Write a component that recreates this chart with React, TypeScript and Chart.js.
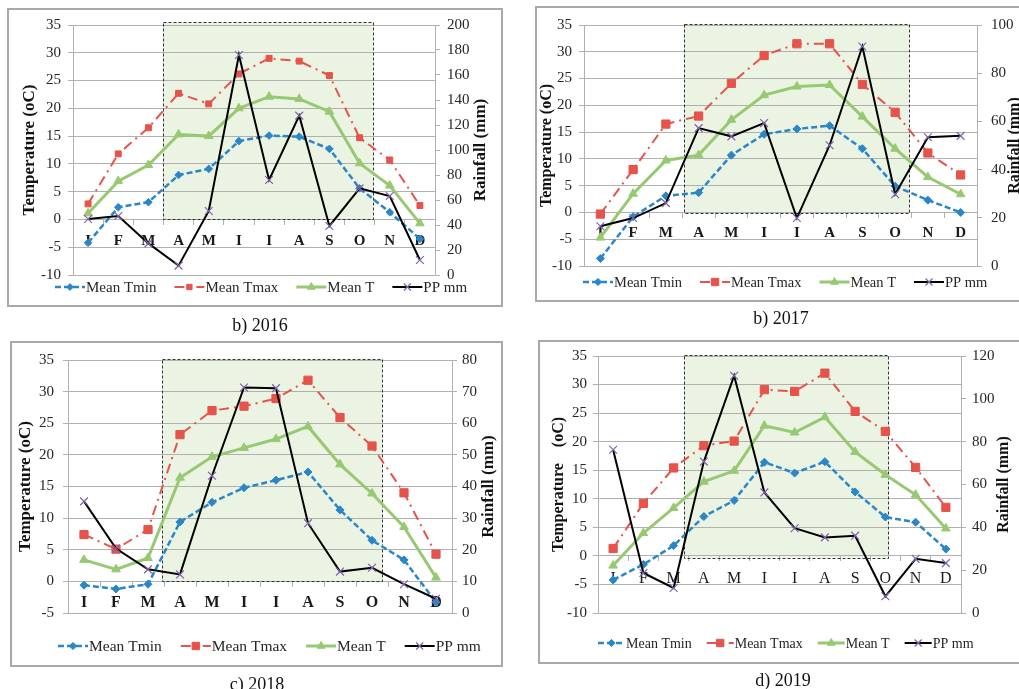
import React, { useEffect, useRef } from 'react';
import { Chart, registerables } from 'chart.js';

Chart.register(...registerables);

// ---------- DATA ----------
const months = ['I', 'F', 'M', 'A', 'M', 'I', 'I', 'A', 'S', 'O', 'N', 'D'];

const tmin2016 = [-4.2, 2.2, 3.1, 8.0, 9.1, 14.1, 15.1, 14.9, 12.7, 5.6, 1.3, -3.5];
const tmax2016 = [2.8, 11.8, 16.5, 22.7, 20.8, 26.2, 29.0, 28.5, 25.9, 14.7, 10.7, 2.5];
const tmean2016 = [1.1, 6.9, 9.8, 15.3, 15.0, 20.0, 22.1, 21.7, 19.4, 10.1, 6.1, -0.7];
const pp2016 = [44.8, 47.2, 25.3, 7.5, 51.2, 176, 76, 127.5, 39.2, 69.3, 63.2, 12];

const tmin2017 = [-8.6, -0.8, 3.1, 3.7, 10.7, 14.6, 15.6, 16.2, 11.9, 4.9, 2.3, 0];
const tmax2017 = [-0.3, 8.0, 16.5, 18.0, 24.1, 29.3, 31.5, 31.5, 23.9, 18.7, 11.1, 7.0];
const tmean2017 = [-4.7, 3.5, 9.7, 10.7, 17.3, 21.9, 23.5, 23.8, 17.9, 11.9, 6.6, 3.4];
const pp2017 = [16.5, 19.9, 26.1, 57.2, 53.8, 59.3, 19.9, 50.1, 91.1, 29.8, 53.4, 54.0];

const tmin2018 = [-0.6, -1.2, -0.45, 9.4, 12.5, 14.8, 16.0, 17.3, 11.3, 6.5, 3.4, -3.3];
const tmax2018 = [7.4, 5.1, 8.2, 23.2, 27.0, 27.7, 28.9, 31.8, 25.9, 21.4, 14.0, 4.3];
const tmean2018 = [3.4, 1.9, 3.7, 16.4, 19.7, 21.1, 22.5, 24.5, 18.5, 13.9, 8.6, 0.6];
const pp2018 = [35.3, 20.4, 13.8, 12.2, 43.4, 71.3, 71.1, 28.4, 13.1, 14.3, 9.1, 4.5];

const tmin2019 = [-4.2, -1.5, 1.8, 6.9, 9.7, 16.4, 14.5, 16.5, 11.2, 6.8, 5.9, 1.2];
const tmax2019 = [1.3, 9.2, 15.4, 19.3, 20.1, 29.1, 28.8, 32.0, 25.3, 21.8, 15.5, 8.5];
const tmean2019 = [-1.7, 4.0, 8.4, 13.0, 14.9, 22.8, 21.6, 24.3, 18.2, 14.2, 10.7, 4.8];
const pp2019 = [76.2, 18.7, 11.7, 70.7, 110.8, 56.3, 39.6, 35.3, 36.1, 7.8, 25.3, 23.3];

const seriesLabels = ['Mean Tmin', 'Mean Tmax', 'Mean T', 'PP mm'];

// ---------- STYLE ----------
const FONT = '"Liberation Serif", "Times New Roman", serif';
const BLUE = '#2a86c8';
const RED = '#e5534b';
const GREEN = '#97c972';
const BLACK = '#000000';
const PURPLE = '#7e64a8';
const GRID = '#b0b0b0';
const SHADE = '#ebf3e2';
const TEXT = '#262626';

interface PanelSpec {
  key: string;
  caption: string;
  capX: number;
  capY: number;
  box: { left: number; top: number; width: number; height: number };
  area: { left: number; top: number; right: number; bottom: number };
  leftPad: number;
  rightPad: number;
  leftTitle: string;
  leftTitleX: number;
  rightTitleX: number;
  titleSize: number;
  yMin: number;
  ppMax: number;
  ppStep: number;
  monthBold: boolean;
  monthSize: number;
  monthPad: number;
  shade: { from: number; to: number; top: number; bottom: number };
  legend: { x: number; y: number; size: number; line: number; gap: number };
  big: boolean;
  tmin: number[];
  tmax: number[];
  tmean: number[];
  pp: number[];
}

const panels: PanelSpec[] = [
  {
    key: 'p2016', caption: 'b) 2016', capX: 260, capY: 325,
    box: { left: 8, top: 9, width: 494, height: 297 },
    area: { left: 65, top: 16, right: 427, bottom: 266 },
    leftPad: 7, rightPad: 7,
    leftTitle: 'Temperature (oC)', leftTitleX: 22, rightTitleX: 473, titleSize: 17,
    yMin: -10, ppMax: 200, ppStep: 20,
    monthBold: true, monthSize: 15, monthPad: 8,
    shade: { from: 2.48, to: 9.44, top: 35.5, bottom: 0 },
    legend: { x: 47, y: 278, size: 15, line: 30, gap: 18 },
    big: false,
    tmin: tmin2016, tmax: tmax2016, tmean: tmean2016, pp: pp2016,
  },
  {
    key: 'p2017', caption: 'b) 2017', capX: 781, capY: 318,
    box: { left: 536, top: 7, width: 490, height: 294 },
    area: { left: 48, top: 16, right: 441, bottom: 259 },
    leftPad: 7, rightPad: 9,
    leftTitle: 'Temperature (oC)', leftTitleX: 11, rightTitleX: 479, titleSize: 16,
    yMin: -10, ppMax: 100, ppStep: 20,
    monthBold: true, monthSize: 15, monthPad: 7,
    shade: { from: 2.55, to: 9.42, top: 35.2, bottom: -0.1 },
    legend: { x: 47, y: 275, size: 14.5, line: 30, gap: 18 },
    big: true,
    tmin: tmin2017, tmax: tmax2017, tmean: tmean2017, pp: pp2017,
  },
  {
    key: 'p2018', caption: 'c) 2018', capX: 257, capY: 684,
    box: { left: 11, top: 342, width: 491, height: 324 },
    area: { left: 57, top: 16, right: 441, bottom: 271 },
    leftPad: 9, rightPad: 5,
    leftTitle: 'Temperature (oC)', leftTitleX: 15, rightTitleX: 478, titleSize: 17,
    yMin: -5, ppMax: 80, ppStep: 10,
    monthBold: true, monthSize: 16, monthPad: 7,
    shade: { from: 2.44, to: 9.31, top: 35.16, bottom: 0 },
    legend: { x: 47, y: 304, size: 15.5, line: 30, gap: 19 },
    big: true,
    tmin: tmin2018, tmax: tmax2018, tmean: tmean2018, pp: pp2018,
  },
  {
    key: 'p2019', caption: 'd) 2019', capX: 783, capY: 680,
    box: { left: 539, top: 341, width: 490, height: 322 },
    area: { left: 59, top: 15, right: 422, bottom: 272 },
    leftPad: 6, rightPad: 6,
    leftTitle: 'Temperature    (oC)', leftTitleX: 20, rightTitleX: 465, titleSize: 16,
    yMin: -10, ppMax: 120, ppStep: 20,
    monthBold: false, monthSize: 16, monthPad: 8,
    shade: { from: 2.34, to: 9.09, top: 35.2, bottom: -0.3 },
    legend: { x: 59, y: 302, size: 14, line: 27, gap: 15 },
    big: true,
    tmin: tmin2019, tmax: tmax2019, tmean: tmean2019, pp: pp2019,
  },
];

function drawMarker(ctx: CanvasRenderingContext2D, style: string, x: number, y: number, r: number,
  fill: string, stroke: string, bw: number) {
  ctx.save();
  ctx.setLineDash([]);
  ctx.beginPath();
  if (style === 'rectRot') {
    ctx.moveTo(x - r, y); ctx.lineTo(x, y - r); ctx.lineTo(x + r, y); ctx.lineTo(x, y + r); ctx.closePath();
  } else if (style === 'rect') {
    const s = r * Math.SQRT1_2;
    ctx.rect(x - s, y - s, 2 * s, 2 * s);
  } else if (style === 'triangle') {
    const a = (2 * Math.PI) / 3;
    ctx.moveTo(x, y - r);
    ctx.lineTo(x + Math.sin(a) * r, y - Math.cos(a) * r);
    ctx.lineTo(x - Math.sin(a) * r, y - Math.cos(a) * r);
    ctx.closePath();
  } else if (style === 'crossRot') {
    const s = r * Math.SQRT1_2;
    ctx.moveTo(x - s, y - s); ctx.lineTo(x + s, y + s);
    ctx.moveTo(x - s, y + s); ctx.lineTo(x + s, y - s);
    ctx.strokeStyle = stroke; ctx.lineWidth = bw; ctx.stroke();
    ctx.restore();
    return;
  }
  ctx.fillStyle = fill; ctx.fill();
  ctx.strokeStyle = stroke; ctx.lineWidth = bw; ctx.stroke();
  ctx.restore();
}

function PanelChart({ spec }: { spec: PanelSpec }) {
  const ref = useRef<HTMLCanvasElement>(null);
  useEffect(() => {
    const canvas = ref.current;
    if (!canvas) return;
    const W = spec.box.width;
    const H = spec.box.height;
    const a = spec.area;

    const panelPlugin = {
      id: 'panelDecor',
      beforeDraw(chart: any) {
        const xs = chart.scales.x, ys = chart.scales.y;
        const ctx = chart.ctx as CanvasRenderingContext2D;
        const x0 = xs.getPixelForValue(spec.shade.from);
        const x1 = xs.getPixelForValue(spec.shade.to);
        const y0 = ys.getPixelForValue(spec.shade.top);
        const y1 = ys.getPixelForValue(spec.shade.bottom);
        ctx.save();
        ctx.fillStyle = SHADE;
        ctx.fillRect(x0, y0, x1 - x0, y1 - y0);
        ctx.restore();
      },
      beforeDatasetsDraw(chart: any) {
        const xs = chart.scales.x, ys = chart.scales.y;
        const ctx = chart.ctx as CanvasRenderingContext2D;
        const x0 = Math.round(xs.getPixelForValue(spec.shade.from)) + 0.5;
        const x1 = Math.round(xs.getPixelForValue(spec.shade.to)) + 0.5;
        const y0 = Math.round(ys.getPixelForValue(spec.shade.top)) + 0.5;
        const y1 = Math.round(ys.getPixelForValue(spec.shade.bottom)) + 0.5;
        ctx.save();
        ctx.strokeStyle = '#333333';
        ctx.lineWidth = 1;
        ctx.setLineDash([3, 2]);
        ctx.strokeRect(x0, y0, x1 - x0, y1 - y0);
        ctx.restore();
      },
      afterDraw(chart: any) {
        const ctx = chart.ctx as CanvasRenderingContext2D;
        const ca = chart.chartArea;
        // right axis title (reads bottom-to-top)
        ctx.save();
        ctx.translate(spec.rightTitleX, (ca.top + ca.bottom) / 2);
        ctx.rotate(-Math.PI / 2);
        ctx.font = `bold ${spec.titleSize}px ${FONT}`;
        ctx.fillStyle = '#111111';
        ctx.textAlign = 'center';
        ctx.textBaseline = 'middle';
        ctx.fillText('Rainfall (mm)', 0, 0);
        ctx.restore();
        // legend
        const lg = spec.legend;
        ctx.save();
        ctx.font = `${lg.size}px ${FONT}`;
        ctx.textBaseline = 'middle';
        ctx.textAlign = 'left';
        let x = lg.x;
        chart.data.datasets.forEach((ds: any) => {
          ctx.save();
          ctx.strokeStyle = ds.borderColor;
          ctx.lineWidth = ds.borderWidth;
          ctx.setLineDash(ds.borderDash || []);
          ctx.beginPath();
          ctx.moveTo(x, lg.y);
          ctx.lineTo(x + lg.line, lg.y);
          ctx.stroke();
          ctx.restore();
          drawMarker(ctx, ds.pointStyle, x + lg.line / 2, lg.y, ds.pointRadius * 0.9,
            ds.pointBackgroundColor, ds.pointBorderColor, ds.pointBorderWidth);
          ctx.fillStyle = TEXT;
          ctx.fillText(ds.label, x + lg.line + 1, lg.y + 1);
          x += lg.line + 1 + ctx.measureText(ds.label).width + lg.gap;
        });
        ctx.restore();
      },
    };

    const tickFont = { family: FONT, size: 15 };

    const chart = new Chart(canvas, {
      type: 'line',
      data: {
        labels: months,
        datasets: [
          {
            label: seriesLabels[0], data: spec.tmin, yAxisID: 'y', order: 3,
            borderColor: BLUE, backgroundColor: BLUE, borderWidth: 2.5, borderDash: [6, 3],
            pointStyle: 'rectRot', pointRadius: spec.big ? 4 : 3.8,
            pointBackgroundColor: BLUE, pointBorderColor: BLUE, pointBorderWidth: 1, tension: 0,
          },
          {
            label: seriesLabels[1], data: spec.tmax, yAxisID: 'y', order: 2,
            borderColor: RED, backgroundColor: RED, borderWidth: 2, borderDash: [10, 5, 2, 5],
            pointStyle: 'rect', pointRadius: spec.big ? 5.8 : 4.2,
            pointBackgroundColor: RED, pointBorderColor: RED, pointBorderWidth: 1, tension: 0,
          },
          {
            label: seriesLabels[2], data: spec.tmean, yAxisID: 'y', order: 1,
            borderColor: GREEN, backgroundColor: GREEN, borderWidth: 3,
            pointStyle: 'triangle', pointRadius: 5,
            pointBackgroundColor: GREEN, pointBorderColor: GREEN, pointBorderWidth: 1, tension: 0,
          },
          {
            label: seriesLabels[3], data: spec.pp, yAxisID: 'y1', order: 0,
            borderColor: BLACK, backgroundColor: BLACK, borderWidth: 2,
            pointStyle: 'crossRot', pointRadius: 5.5,
            pointBackgroundColor: PURPLE, pointBorderColor: PURPLE, pointBorderWidth: 1.2, tension: 0,
          },
        ],
      },
      options: {
        responsive: false,
        maintainAspectRatio: false,
        animation: false,
        devicePixelRatio: 1,
        events: [],
        layout: { padding: { left: 0, right: 0, top: a.top, bottom: H - a.bottom } },
        plugins: { legend: { display: false }, tooltip: { enabled: false }, title: { display: false } },
        scales: {
          x: {
            type: 'category',
            position: { y: 0 } as any,
            offset: true,
            grid: { display: true, drawOnChartArea: false, offset: true, tickLength: 5, color: GRID, lineWidth: 1 },
            border: { display: true, color: GRID },
            ticks: {
              autoSkip: false, maxRotation: 0, padding: spec.monthPad, color: '#1a1a1a',
              font: { family: FONT, size: spec.monthSize, weight: spec.monthBold ? 'bold' : 'normal' },
            },
          },
          y: {
            type: 'linear', position: 'left', min: spec.yMin, max: 35,
            ticks: { stepSize: 5, font: tickFont, color: TEXT, padding: spec.leftPad },
            grid: { color: GRID, tickLength: 5, lineWidth: 1 },
            border: { display: true, color: GRID },
            title: {
              display: true, text: spec.leftTitle, color: '#111111',
              font: { family: FONT, size: spec.titleSize, weight: 'bold' },
              padding: { top: spec.leftTitleX - (spec.titleSize * 1.2) / 2, bottom: 0 },
            },
            afterFit: (s: any) => { s.width = a.left; },
          },
          y1: {
            type: 'linear', position: 'right', min: 0, max: spec.ppMax,
            ticks: { stepSize: spec.ppStep, font: tickFont, color: TEXT, padding: spec.rightPad },
            grid: { drawOnChartArea: false, color: GRID, tickLength: 5, lineWidth: 1 },
            border: { display: true, color: GRID },
            afterFit: (s: any) => { s.width = W - a.right; },
          },
        },
      } as any,
      plugins: [panelPlugin],
    });
    return () => chart.destroy();
  }, [spec]);

  const b = spec.box;
  return (
    <>
      <canvas
        ref={ref}
        width={b.width}
        height={b.height}
        style={{ position: 'absolute', left: b.left, top: b.top, width: b.width, height: b.height }}
      />
      <div
        style={{
          position: 'absolute', left: b.left - 1, top: b.top - 1, width: b.width + 2, height: b.height + 2,
          boxSizing: 'border-box', border: '2px solid #a9a9a9', pointerEvents: 'none',
        }}
      />
      <div
        style={{
          position: 'absolute', left: spec.capX - 100, top: spec.capY - 11, width: 200, height: 22,
          lineHeight: '22px', textAlign: 'center', fontFamily: FONT, fontSize: 18, color: '#111',
        }}
      >
        {spec.caption}
      </div>
    </>
  );
}

export default function App() {
  return (
    <div
      style={{
        position: 'absolute', left: 0, top: 0, width: 1019, height: 689, overflow: 'hidden',
        background: '#ffffff',
      }}
    >
      {panels.map((p) => (
        <PanelChart key={p.key} spec={p} />
      ))}
    </div>
  );
}
